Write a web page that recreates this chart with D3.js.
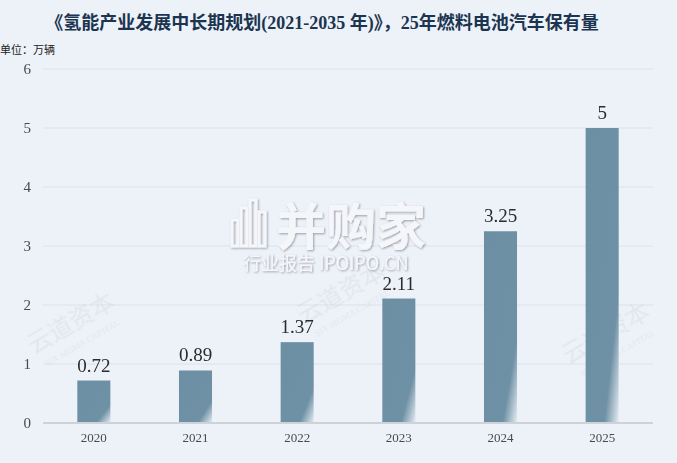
<!DOCTYPE html>
<html><head><meta charset="utf-8">
<script src="https://cdn.jsdelivr.net/npm/d3@7"></script>
<style>
html,body{margin:0;padding:0;background:#edf1f8;}
svg{display:block;}
</style></head>
<body>
<svg id="c" width="677" height="463"></svg>
<script>
const categories = ["2020","2021","2022","2023","2024","2025"];
const values = [0.72, 0.89, 1.37, 2.11, 3.25, 5];
const yTicks = [0,1,2,3,4,5,6];
const title = "《氢能产业发展中长期规划(2021-2035 年)》，25年燃料电池汽车保有量";
const unitLabel = "单位：万辆";

const svg = d3.select("#c");
const W = 677, H = 463;
const m = {left:43, right:24, top:69, bottom:40};

svg.append("rect").attr("width",W).attr("height",H).attr("fill","#edf1f8");

const defs = svg.append("defs");
const g = defs.append("linearGradient").attr("id","bg").attr("x1","0").attr("y1","0").attr("x2","1").attr("y2","1");
g.append("stop").attr("offset","0").attr("stop-color","#6c8fa3");
g.append("stop").attr("offset","0.78").attr("stop-color","#6f91a5");
g.append("stop").attr("offset","1").attr("stop-color","#e6ecf3");
const filt = defs.append("filter").attr("id","sh").attr("x","-10%").attr("y","-10%").attr("width","130%").attr("height","130%");
filt.append("feDropShadow").attr("dx",1).attr("dy",1).attr("stdDeviation",1.2).attr("flood-color","#000").attr("flood-opacity",0.35);

const x = d3.scaleBand().domain(categories).range([m.left, W-m.right]).paddingInner(0.675).paddingOuter(0.3375);
const y = d3.scaleLinear().domain([0,6]).range([H-m.bottom, m.top]);

// gridlines
svg.append("g").selectAll("line").data(yTicks.filter(d=>d>0)).join("line")
  .attr("x1",m.left).attr("x2",W-m.right)
  .attr("y1",d=>y(d)).attr("y2",d=>y(d))
  .attr("stroke","#dde2ea").attr("stroke-width",1);

// watermarks faint
const wm = svg.append("g").attr("fill","#c9ced6").attr("opacity",0.3).attr("font-family","'Noto Sans CJK SC'");
[[75,330],[345,300],[610,340]].forEach(([a,b])=>{
  const t = wm.append("g").attr("transform",`translate(${a},${b}) rotate(-30)`);
  t.append("text").attr("font-size",24).attr("text-anchor","middle").text("云道资本");
  t.append("text").attr("y",18).attr("font-size",9).attr("font-family","'Liberation Serif'").attr("text-anchor","middle").text("SIX SIGMA CAPITAL");
});

// bars
svg.append("g").selectAll("rect").data(values).join("rect")
  .attr("x",(d,i)=>x(categories[i]))
  .attr("width",x.bandwidth())
  .attr("y",d=>y(d))
  .attr("height",d=>y(0)-y(d))
  .attr("fill","url(#bg)");

// value labels
svg.append("g").selectAll("text").data(values).join("text")
  .attr("x",(d,i)=>x(categories[i])+x.bandwidth()/2)
  .attr("y",d=>y(d)-9)
  .attr("text-anchor","middle")
  .attr("font-family","'Liberation Serif', serif")
  .attr("font-size",19).attr("fill","#2b2b2b")
  .text(d=>d);

// baseline
svg.append("line").attr("x1",m.left).attr("x2",W-m.right).attr("y1",y(0)).attr("y2",y(0))
  .attr("stroke","#cfd3d9").attr("stroke-width",2);

// y axis
const ya = svg.append("g").attr("transform",`translate(${m.left},0)`)
  .call(d3.axisLeft(y).tickValues(yTicks).tickSize(0).tickPadding(12).tickFormat(d3.format("d")));
ya.select(".domain").remove();
ya.selectAll("text").attr("font-family","'Liberation Serif', serif").attr("font-size",15).attr("fill","#4a4a4a");

// x axis
const xa = svg.append("g").attr("transform",`translate(0,${y(0)})`)
  .call(d3.axisBottom(x).tickSize(0).tickPadding(10));
xa.select(".domain").remove();
xa.selectAll("text").attr("font-family","'Liberation Serif', serif").attr("font-size",13).attr("fill","#4a4a4a");

// title
svg.append("text").attr("x",322).attr("y",29).attr("text-anchor","middle")
  .attr("font-family","'Liberation Serif','Noto Sans CJK SC', serif").attr("font-weight","bold")
  .attr("font-size",18).attr("fill","#1b3550").text(title);
svg.append("text").attr("x",0).attr("y",54)
  .attr("font-family","'Noto Sans CJK SC', serif").attr("font-size",11).attr("fill","#222").text(unitLabel);

// main watermark
const mw = svg.append("g").attr("filter","url(#sh)").attr("fill","#f4f6f9");
const ic = mw.append("g").attr("transform","translate(232,200)");
[[0,20,6,26],[9,8,6,38],[18,0,6,46],[27,12,6,34]].forEach(([a,b,w,h])=>{
  ic.append("rect").attr("x",a).attr("y",b).attr("width",w).attr("height",h).attr("fill","none").attr("stroke","#f4f6f9").attr("stroke-width",3);
});
mw.append("text").attr("x",276).attr("y",245).attr("font-family","'Noto Sans CJK SC'").attr("font-weight","bold")
  .attr("font-size",50).text("并购家");
mw.append("text").attr("x",243).attr("y",270).attr("font-family","'Noto Sans CJK SC'")
  .attr("font-size",18).text("行业报告 IPOIPO.CN");
</script>
</body></html>
